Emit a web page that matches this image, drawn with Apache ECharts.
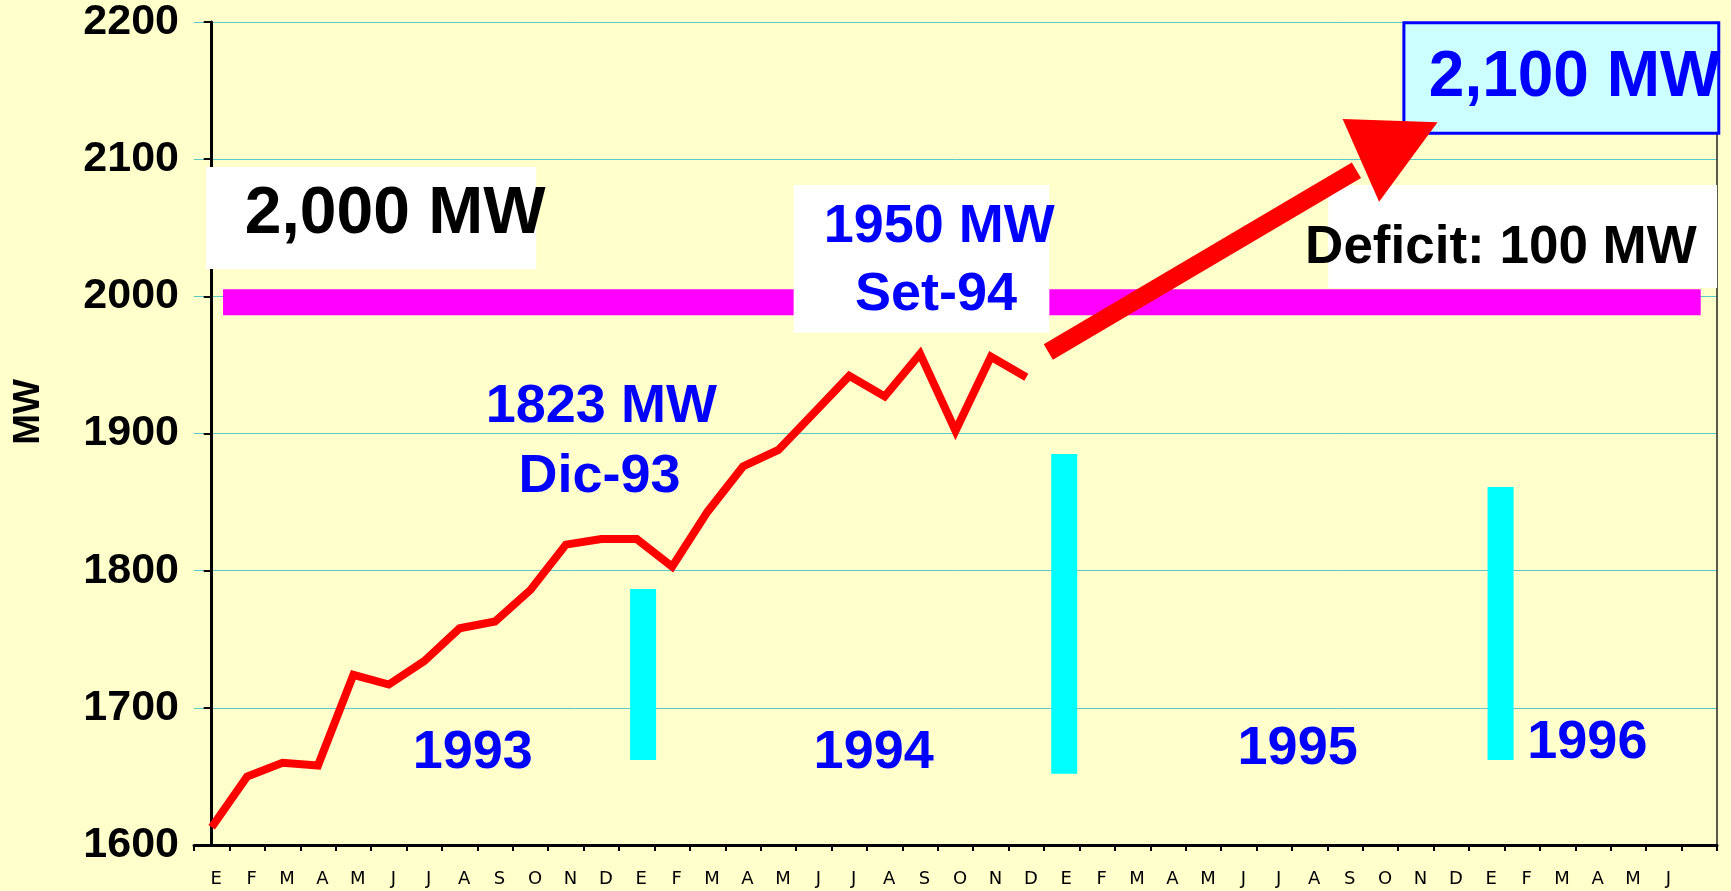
<!DOCTYPE html>
<html>
<head>
<meta charset="utf-8">
<script src="https://cdn.jsdelivr.net/npm/echarts@6/dist/echarts.min.js"></script>
<style>
html,body{margin:0;padding:0;background:#FFFFCC;}
#chart{width:1731px;height:891px;}
</style>
</head>
<body>
<div id="chart"></div>
<script>
// Month labels (E = Enero ... D = Diciembre), 1993 - mid 1996
const categories = ['E','F','M','A','M','J','J','A','S','O','N','D',
                    'E','F','M','A','M','J','J','A','S','O','N','D',
                    'E','F','M','A','M','J','J','A','S','O','N','D',
                    'E','F','M','A','M','J',''];
// Monthly maximum demand (MW), Jan-93 .. Dec-94
const demandMW = [1613,1650,1660,1658,1724,1717,1734,1758,1763,1786,1819,1823,
                  1823,1803,1843,1876,1888,1915,1942,1927,1958,1902,1956,1941];
const yTicks = [1600,1700,1800,1900,2000,2100,2200];
// Installed capacity level (MW) drawn as a band
const capacityLine = [[0.32,1995.7],[42.04,1995.7]];
// Projection arrow (x in month index, y in MW)
const arrowShaft = [[23.62,1959.4],[32.32,2091.9]];
const arrowHead = [[31.93,2129.3],[34.61,2127.0],[32.96,2069.0]];
// Year separators: [month index, top MW, bottom MW]
const yearMarks = [[12.18,1786.6,1662],[24.07,1885,1652],[36.39,1861,1662]];
// Annotation boxes: [x0, x1, yTop, yBottom]
const whiteBoxes = [[-0.16,9.16,2094.3,2020.0],[16.43,23.65,2081.2,1973.5],[31.52,42.5,2081.2,2006.0]];
const goalBox = [[33.66,42.55,2199.5,2118.9]];
// Annotation texts and their anchors (month index, MW)
const noteTexts = ['2,000 MW','1950 MW','Set-94','1823 MW','Dic-93','Deficit: 100 MW','2,100 MW','1993','1994','1995','1996'];
const noteAnchors = [[5.18,2059.3],[20.54,2050.8],[20.45,2000.6],[11.0,1918.9],[10.95,1868.3],[36.4,2035.2],[38.48,2159.2],[7.37,1667.1],[18.69,1667.1],[30.66,1670],[38.84,1674]];

const FONT = '"Liberation Sans", Arial, sans-serif';
const noteStyles = [
  {size:66,color:'#000000'},{size:54,color:'#0000FF'},{size:54,color:'#0000FF'},
  {size:54,color:'#0000FF'},{size:54,color:'#0000FF'},{size:53,color:'#000000'},
  {size:64,color:'#0000FF'},{size:54,color:'#0000FF'},{size:54,color:'#0000FF'},
  {size:54,color:'#0000FF'},{size:54,color:'#0000FF'}
];

const chart = echarts.init(document.getElementById('chart'), null, {renderer:'canvas'});

function boxRender(fill, stroke, lw){
  return function(params, api){
    const p0 = api.coord([api.value(0), api.value(2)]);
    const p1 = api.coord([api.value(1), api.value(3)]);
    return {type:'rect', shape:{x:p0[0], y:p0[1], width:p1[0]-p0[0], height:p1[1]-p0[1]},
      style:{fill:fill, stroke:stroke||null, lineWidth:lw||0}};
  };
}

const option = {
  backgroundColor:'#FFFFCC',
  animation:false,
  grid:{left:194, right:14, top:22, bottom:46, containLabel:false},
  xAxis:[
    {type:'category', data:categories, boundaryGap:true,
     axisLine:{show:true, lineStyle:{color:'#000', width:3}},
     axisTick:{show:true, length:6, lineStyle:{color:'#000', width:2}},
     axisLabel:{show:true, interval:0, margin:25, fontSize:18, color:'#000',
       fontFamily:'"DejaVu Sans", sans-serif', padding:[0,0,0,9]},
     splitLine:{show:false}},
    {type:'value', min:-0.5, max:42.5, show:false}
  ],
  yAxis:[
    {type:'value', min:yTicks[0], max:yTicks[yTicks.length-1], interval:100,
     axisLine:{show:true, lineStyle:{color:'#000', width:3}},
     axisTick:{show:true, length:8, lineStyle:{color:'#000', width:2}},
     axisLabel:{show:true, margin:15, fontSize:43, fontWeight:'bold', color:'#000', fontFamily:FONT,
       formatter:function(v){ return String(v); }},
     splitLine:{show:true, lineStyle:{color:'#5CC8C8', width:1}}},
    {type:'value', min:yTicks[0], max:yTicks[yTicks.length-1], position:'right',
     axisLine:{show:true, lineStyle:{color:'#222', width:1.5}},
     axisTick:{show:false}, axisLabel:{show:false}, splitLine:{show:false}}
  ],
  graphic:[
    {type:'text', x:29, y:412, rotation:Math.PI/2,
     style:{text:'MW', font:'bold 37px "Liberation Sans", Arial, sans-serif', fill:'#000', align:'center', verticalAlign:'middle'}}
  ],
  series:[
    {type:'line', name:'capacity', xAxisIndex:1, yAxisIndex:0, data:capacityLine, symbol:'none', silent:true,
     lineStyle:{color:'#FF00FF', width:26, cap:'butt'}, z:2},
    {type:'custom', name:'whiteBoxes', xAxisIndex:1, yAxisIndex:0, data:whiteBoxes, silent:true, clip:false,
     renderItem:boxRender('#FFFFFF'), z:3},
    {type:'custom', name:'goalBox', xAxisIndex:1, yAxisIndex:0, data:goalBox, silent:true, clip:false,
     renderItem:boxRender('#CCFFFF','#0000FF',3), z:3},
    {type:'custom', name:'yearMarks', xAxisIndex:1, yAxisIndex:0, data:yearMarks, silent:true,
     renderItem:function(params, api){
       const p0 = api.coord([api.value(0), api.value(1)]);
       const p1 = api.coord([api.value(0), api.value(2)]);
       return {type:'rect', shape:{x:p0[0]-13, y:p0[1], width:26, height:p1[1]-p0[1]}, style:{fill:'#00FFFF'}};
     }, z:4},
    {type:'line', name:'demand', xAxisIndex:0, yAxisIndex:0, data:demandMW, symbol:'none', silent:true,
     lineStyle:{color:'#FF0000', width:8, join:'miter'}, z:5},
    {type:'line', name:'arrowShaft', xAxisIndex:1, yAxisIndex:0, data:arrowShaft, symbol:'none', silent:true,
     lineStyle:{color:'#FF0000', width:18, cap:'butt'}, z:6},
    {type:'custom', name:'arrowHead', xAxisIndex:1, yAxisIndex:0, data:arrowHead, silent:true, clip:false,
     renderItem:function(params, api){
       if(params.dataIndex !== 0) return null;
       const pts = [];
       for(let i=0;i<arrowHead.length;i++){
         pts.push(api.coord([api.value(0,i), api.value(1,i)]));
       }
       return {type:'polygon', shape:{points:pts}, style:{fill:'#FF0000'}};
     }, z:6},
    {type:'custom', name:'notes', xAxisIndex:1, yAxisIndex:0, silent:true, clip:false, z:10,
     data: noteAnchors,
     renderItem:function(params, api){
       const i = params.dataIndex;
       const p = api.coord([api.value(0), api.value(1)]);
       return {type:'text', x:p[0], y:p[1],
         style:{text:noteTexts[i], fill:noteStyles[i].color, opacity:1,
           font:'bold ' + noteStyles[i].size + 'px ' + FONT,
           align:'center', verticalAlign:'middle'}};
     }}
  ]
};
chart.setOption(option);
</script>
</body>
</html>
